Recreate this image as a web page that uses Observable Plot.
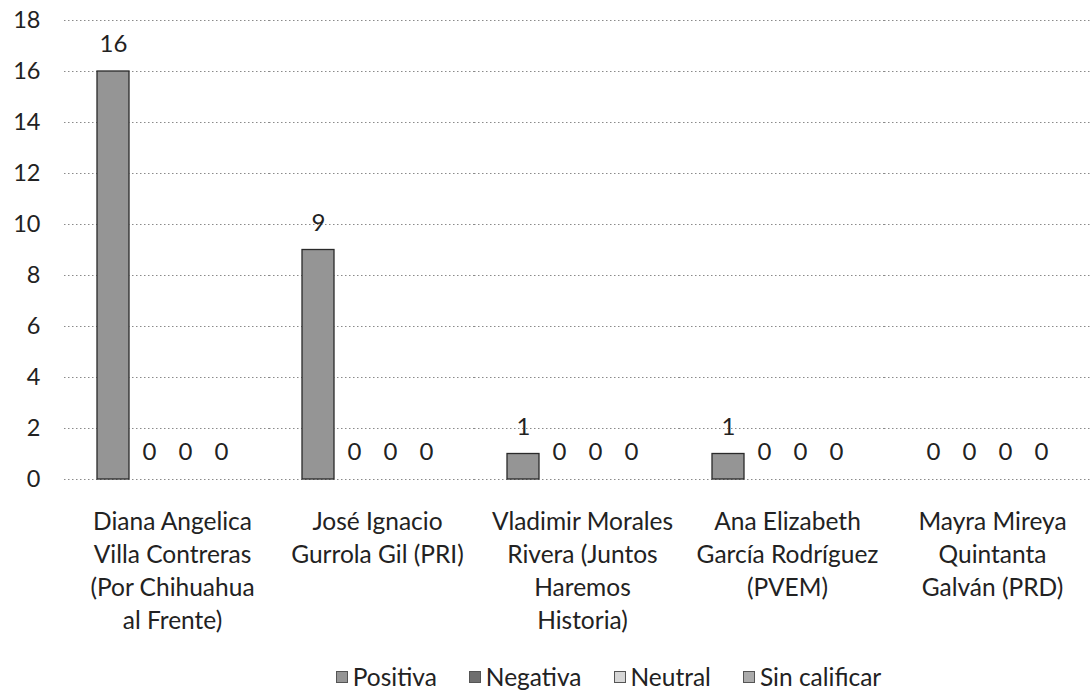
<!DOCTYPE html>
<html>
<head>
<meta charset="utf-8">
<script src="https://cdn.jsdelivr.net/npm/d3@7"></script>
<script src="https://cdn.jsdelivr.net/npm/@observablehq/plot@0.6"></script>
<style>
  html, body { margin: 0; padding: 0; background: #fff; }
  body { width: 1091px; height: 693px; overflow: hidden; font-family: Lato, "Open Sans", sans-serif; color: #222; }
  #legend { display: flex; justify-content: center; align-items: center; gap: 32px; font-size: 24.5px; padding-left: 126px; height: 33px; }
  #legend .item { display: flex; align-items: center; gap: 5px; }
  #legend .sw { width: 12px; height: 12px; border: 1px solid #555; box-sizing: border-box; }
</style>
</head>
<body>
<div id="chart"></div>
<div id="legend"></div>
<script>
const candidates = [
  "Diana Angelica Villa Contreras (Por Chihuahua al Frente)",
  "José Ignacio Gurrola Gil (PRI)",
  "Vladimir Morales Rivera (Juntos Haremos Historia)",
  "Ana Elizabeth García Rodríguez (PVEM)",
  "Mayra Mireya Quintanta Galván (PRD)"
];
const candidateLabels = [
  "Diana Angelica\nVilla Contreras\n(Por Chihuahua\nal Frente)",
  "José Ignacio\nGurrola Gil (PRI)",
  "Vladimir Morales\nRivera (Juntos\nHaremos\nHistoria)",
  "Ana Elizabeth\nGarcía Rodríguez\n(PVEM)",
  "Mayra Mireya\nQuintanta\nGalván (PRD)"
];
const series = ["Positiva", "Negativa", "Neutral", "Sin calificar"];
const positiva = [16, 9, 1, 1, 0];
const negativa = [0, 0, 0, 0, 0];
const neutral = [0, 0, 0, 0, 0];
const sinCalificar = [0, 0, 0, 0, 0];
const yTicks = [0, 2, 4, 6, 8, 10, 12, 14, 16, 18];
const seriesColors = ["#959595", "#6f6f6f", "#d6d6d6", "#ababab"];

const valuesBySeries = [positiva, negativa, neutral, sinCalificar];
const data = candidates.flatMap((c, i) =>
  series.map((s, j) => ({candidate: c, series: s, value: valuesBySeries[j][i]}))
);

const chart = Plot.plot({
  width: 1091,
  height: 660,
  marginLeft: 90,
  marginRight: 28,
  marginTop: 20,
  marginBottom: 181,
  style: {fontFamily: "Lato, 'Open Sans', sans-serif", color: "#222", background: "#fff"},
  fx: {domain: candidates, paddingInner: 0.27, paddingOuter: 0, axis: null, label: null},
  x: {domain: series, padding: 0.12, axis: null, label: null},
  y: {domain: [0, 18], axis: null, label: null},
  color: {domain: series, range: seriesColors},
  marks: [
    Plot.ruleY(yTicks, {stroke: "#8a8a8a", strokeDasharray: "1.5,2.5", strokeWidth: 1, insetLeft: -28, insetRight: -28}),
    Plot.barY(data.filter(d => d.value > 0), {fx: "candidate", x: "series", y: "value", fill: "series", stroke: "#2a2a2a", strokeWidth: 1.3}),
    Plot.text(data, {fx: "candidate", x: "series", y: "value", text: d => String(d.value), dy: -27, fontSize: 24, fill: "#222"}),
    Plot.text(candidates, {fx: d => d, text: (d, i) => candidateLabels[i], frameAnchor: "bottom", lineAnchor: "top", dx: 5, dy: 27, lineHeight: 1.35, fontSize: 24.5, fill: "#222"}),
    Plot.axisY({ticks: yTicks, tickSize: 0, tickPadding: 52, fontSize: 23.5, label: null, anchor: "left"})
  ]
});
document.getElementById("chart").appendChild(chart);

const legend = document.getElementById("legend");
series.forEach((s, i) => {
  const item = document.createElement("div");
  item.className = "item";
  const sw = document.createElement("span");
  sw.className = "sw";
  sw.style.background = seriesColors[i];
  const label = document.createElement("span");
  label.textContent = s;
  item.appendChild(sw);
  item.appendChild(label);
  legend.appendChild(item);
});
</script>
</body>
</html>
